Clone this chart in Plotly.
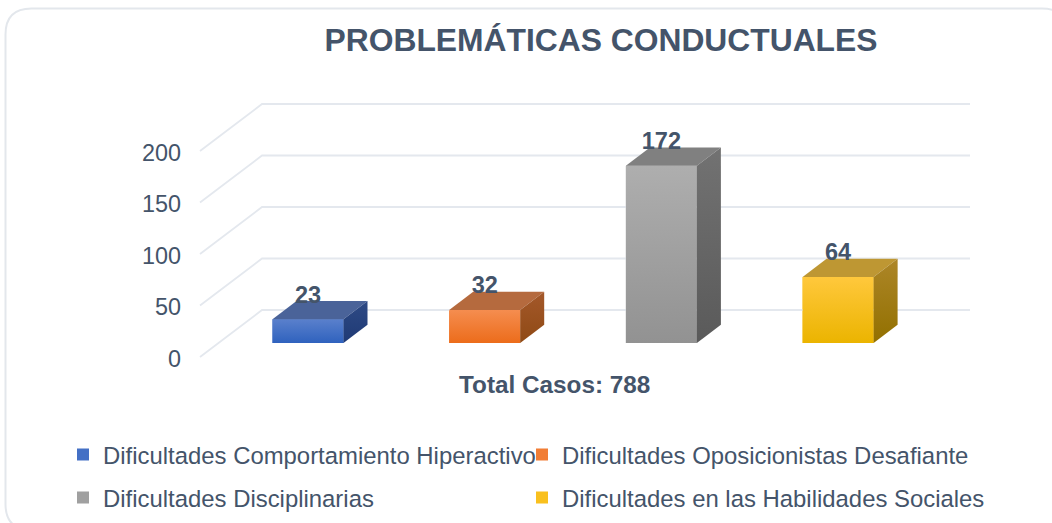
import plotly.graph_objects as go

W, H = 1052, 523

categories = ["Dificultades Comportamiento Hiperactivo", "Dificultades Oposicionistas Desafiante",
              "Dificultades Disciplinarias", "Dificultades en las Habilidades Sociales"]
values = [23, 32, 172, 64]
y_ticks = [0, 50, 100, 150, 200]

swatch = ["#4470C5", "#F17D35", "#A0A0A0", "#F9C01E"]
front_top = ["#5A80CC", "#F58D4F", "#AEAEAE", "#FFC83C"]
front_bot = ["#2F62BE", "#EC6C1B", "#929292", "#EBB400"]
top_face = ["#4A6399", "#B56A3E", "#808080", "#BE9733"]
side_top = ["#2E4A85", "#A4582A", "#727272", "#AD8628"]
side_bot = ["#1F3A75", "#8F4A15", "#5A5A5A", "#927000"]
TEXT = "#44546A"
GRID = "#E4E8EE"

# geometry of the pseudo-3D projection, in axis units
PX_PER_X, PX_PER_Y = 176.7, 1.03
BAR_W = 71 / PX_PER_X
DEPTH_X, DEPTH_Y = 24 / PX_PER_X, 18.3 / PX_PER_Y       # bar depth
WALL_X0 = (200 - 308) / PX_PER_X                        # front edge of the side wall
WALL_X1 = (262 - 308) / PX_PER_X
WALL_X2 = (970 - 308) / PX_PER_X
FLOOR_FRONT = -14 / PX_PER_Y                            # value 0 on the front plane
FLOOR_BACK = 33 / PX_PER_Y                              # value 0 on the back wall
LABEL_NUDGE = -1.5 / PX_PER_Y                           # tick labels sit just under their line

fig = go.Figure()

# gridlines: side wall + back wall
for t in y_ticks:
    fig.add_trace(go.Scatter(
        x=[WALL_X0, WALL_X1, WALL_X2],
        y=[t + FLOOR_FRONT, t + FLOOR_BACK, t + FLOOR_BACK],
        mode="lines", line=dict(color=GRID, width=1.8),
        showlegend=False, hoverinfo="skip"))

legend_of = ["legend", "legend2", "legend3", "legend4"]
for i, (name, v) in enumerate(zip(categories, values)):
    fig.add_trace(go.Bar(
        x=[i], y=[v], width=BAR_W, name=name, legend=legend_of[i],
        marker=dict(color=swatch[i], line=dict(width=0))))

def grad(c0, c1):
    return dict(type="vertical", colorscale=[[0, c0], [1, c1]])

for i, v in enumerate(values):
    l, r = i - BAR_W / 2, i + BAR_W / 2
    # front
    fig.add_trace(go.Scatter(x=[l, r, r, l, l], y=[0, 0, v, v, 0], mode="lines", fill="toself",
                             line=dict(width=0), fillgradient=grad(front_bot[i], front_top[i]),
                             showlegend=False, hoverinfo="skip"))
    # top
    fig.add_trace(go.Scatter(x=[l, r, r + DEPTH_X, l + DEPTH_X, l],
                             y=[v, v, v + DEPTH_Y, v + DEPTH_Y, v], mode="lines", fill="toself",
                             line=dict(width=0), fillcolor=top_face[i],
                             showlegend=False, hoverinfo="skip"))
    # side
    fig.add_trace(go.Scatter(x=[r, r + DEPTH_X, r + DEPTH_X, r, r],
                             y=[0, DEPTH_Y, v + DEPTH_Y, v, 0], mode="lines", fill="toself",
                             line=dict(width=0), fillgradient=grad(side_bot[i], side_top[i]),
                             showlegend=False, hoverinfo="skip"))

# data labels
fig.add_trace(go.Scatter(
    x=list(range(len(values))), y=[v + 22 for v in values],
    mode="text", text=[str(v) for v in values], textposition="middle center",
    textfont=dict(family="Liberation Sans", size=23.5, color=TEXT, weight="bold"),
    showlegend=False, hoverinfo="skip", cliponaxis=False))

def px(x):
    return x / W

def py(y):
    return 1 - y / H

x_left, x_right = 182, 980
y_top, y_bot = 90, 372

# rounded card
L, T, R, B, C = 5.5, 8.5, 1068, 530, 26
card = (f"M {px(L)} {py(T + C)} Q {px(L)} {py(T)} {px(L + C)} {py(T)} "
        f"L {px(R - C)} {py(T)} Q {px(R)} {py(T)} {px(R)} {py(T + C)} "
        f"L {px(R)} {py(B - C)} Q {px(R)} {py(B)} {px(R - C)} {py(B)} "
        f"L {px(L + C)} {py(B)} Q {px(L)} {py(B)} {px(L)} {py(B - C)} Z")

legend_font = dict(family="Liberation Sans", size=23.9, color=TEXT)
common_legend = dict(orientation="v", xanchor="left", yanchor="middle", font=legend_font,
                     bgcolor="rgba(0,0,0,0)")

fig.update_layout(
    width=W, height=H, autosize=False,
    margin=dict(l=0, r=0, t=0, b=0),
    paper_bgcolor="white", plot_bgcolor="rgba(0,0,0,0)",
    barmode="overlay",
    title=dict(text="PROBLEMÁTICAS CONDUCTUALES", x=px(601), xanchor="center", y=py(40), yanchor="middle",
               font=dict(family="Liberation Sans", size=31.8, color=TEXT, weight="bold")),
    xaxis=dict(domain=[px(x_left), px(x_right)],
               range=[(x_left - 308) / PX_PER_X, (x_right - 308) / PX_PER_X],
               showgrid=False, zeroline=False, showticklabels=False, ticks="", showline=False),
    yaxis=dict(domain=[py(y_bot), py(y_top)],
               range=[(343 - y_bot) / PX_PER_Y, (343 - y_top) / PX_PER_Y],
               tickvals=[t + FLOOR_FRONT + LABEL_NUDGE for t in y_ticks], ticktext=[str(t) for t in y_ticks],
               tickfont=dict(family="Liberation Sans", size=23.4, color=TEXT),
               showgrid=False, zeroline=False, ticks="", showline=False),
    legend=dict(x=px(63), y=py(455), **common_legend),
    legend2=dict(x=px(522), y=py(455), **common_legend),
    legend3=dict(x=px(63), y=py(498), **common_legend),
    legend4=dict(x=px(522), y=py(498), **common_legend),
    shapes=[dict(type="path", path=card, xref="paper", yref="paper", layer="below",
                 line=dict(color="#E3E7EC", width=2), fillcolor="white")],
    annotations=[dict(text="<b>Total Casos: 788</b>", xref="paper", yref="paper", x=px(554), y=py(384),
                      xanchor="center", yanchor="middle", showarrow=False,
                      font=dict(family="Liberation Sans", size=24.3, color=TEXT))],
)

fig.write_html("out.html", post_script="document.body.style.margin='0';",
               config=dict(displayModeBar=False))
